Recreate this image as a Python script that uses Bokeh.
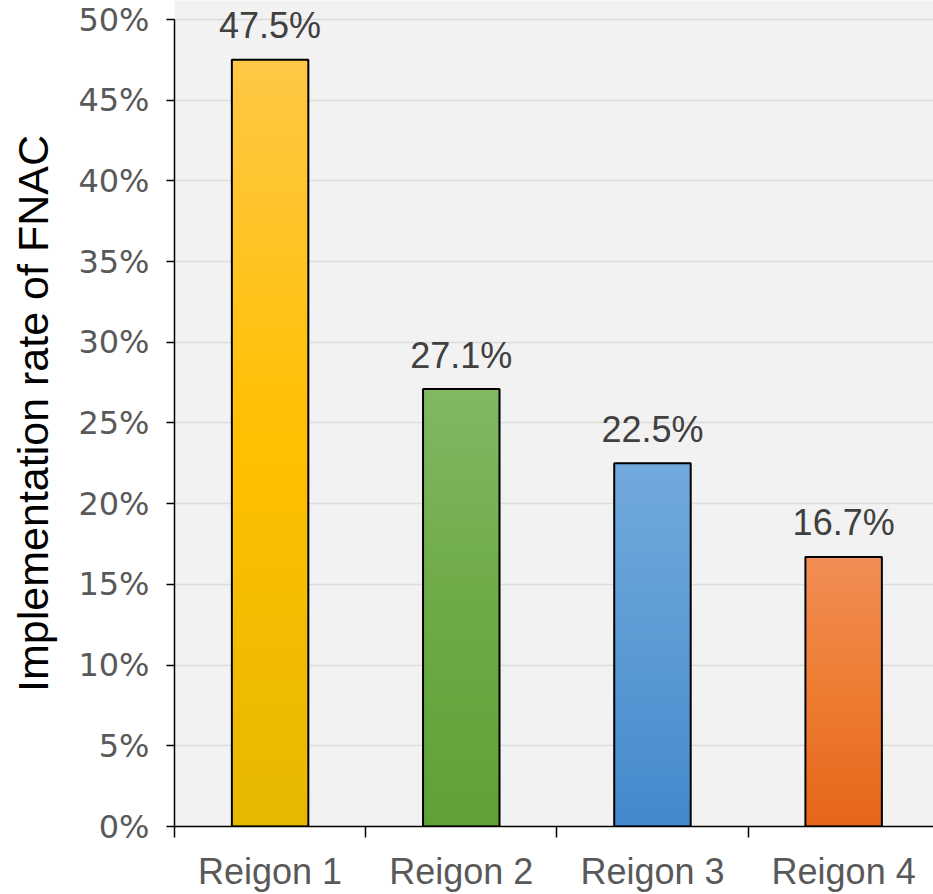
from bokeh.plotting import figure
from bokeh.models import Range1d, FixedTicker, NumeralTickFormatter, ColumnDataSource
from bokeh.core.properties import value
from bokeh.embed import file_html
from bokeh.resources import INLINE

# FNAC implementation rate by region
regions = ["Reigon 1", "Reigon 2", "Reigon 3", "Reigon 4"]
rates = [0.475, 0.271, 0.225, 0.167]
y_ticks = [0.0, 0.05, 0.10, 0.15, 0.20, 0.25, 0.30, 0.35, 0.40, 0.45, 0.50]

# gradient stops per bar: (bottom, middle, top)
bar_gradients = [
    ("#e6b800", "#ffc000", "#ffc746"),
    ("#5fa136", "#6dab45", "#80b864"),
    ("#4389cb", "#5b9bd5", "#72a9dd"),
    ("#e6651a", "#ed7d31", "#f28d57"),
]


def hex_to_rgb(h):
    h = h.lstrip("#")
    return tuple(int(h[i:i + 2], 16) for i in (0, 2, 4))


def blend(c1, c2, t):
    a, b = hex_to_rgb(c1), hex_to_rgb(c2)
    return "#%02x%02x%02x" % tuple(round(a[i] + (b[i] - a[i]) * t) for i in range(3))


def gradient_color(stops, t):
    lo, mid, hi = stops
    if t < 0.5:
        return blend(lo, mid, t / 0.5)
    return blend(mid, hi, (t - 0.5) / 0.5)


centers = [i + 0.5 for i in range(len(regions))]
BAR_W = 0.4

p = figure(
    width=933, height=894,
    x_range=Range1d(0, 3.970),
    y_range=Range1d(0, 0.5117),
    output_backend="svg", toolbar_location=None,
    min_border_left=174, min_border_right=0,
    min_border_top=0, min_border_bottom=64,
)
p.background_fill_color = "#f2f2f2"
p.border_fill_color = "white"
p.outline_line_color = None

# gradient fill: stacked bands painted bottom-up, each band reaching the bar top
N = 140
left, right, bottom, top, colors = [], [], [], [], []
for c, v, stops in zip(centers, rates, bar_gradients):
    for k in range(N):
        left.append(c - BAR_W / 2)
        right.append(c + BAR_W / 2)
        bottom.append(v * k / N)
        top.append(v)
        colors.append(gradient_color(stops, (k + 0.5) / N))
p.quad(left=left, right=right, bottom=bottom, top=top,
       fill_color=colors, line_color=None)

# bar outlines
p.vbar(x=centers, top=rates, width=BAR_W, bottom=0,
       fill_color=None, line_color="black", line_width=2)

# value labels
labels = ColumnDataSource(dict(x=centers, y=rates,
                               t=[f"{v * 100:.1f}%" for v in rates]))
p.text(x="x", y="y", text="t", source=labels,
       text_font=value("Liberation Sans"), text_font_size="36px",
       text_color="#404040", text_align="center",
       text_baseline="alphabetic", y_offset=-34)

# grid
p.xgrid.grid_line_color = None
p.ygrid.ticker = FixedTicker(ticks=y_ticks)
p.ygrid.grid_line_color = "#dcdcdc"
p.ygrid.grid_line_width = 1.5

# y axis
ya = p.yaxis[0]
ya.ticker = FixedTicker(ticks=y_ticks)
ya.bounds = (0, 0.5)
ya.formatter = NumeralTickFormatter(format="0%")
ya.axis_line_color = "black"
ya.axis_line_width = 1.5
ya.major_tick_line_color = "black"
ya.major_tick_line_width = 1.5
ya.major_tick_out = 8
ya.major_tick_in = 0
ya.minor_tick_line_color = None
ya.major_label_text_font = "DejaVu Sans"
ya.major_label_text_font_size = "32px"
ya.major_label_text_color = "#595959"
ya.major_label_standoff = 17
ya.axis_label = "Implementation rate of FNAC"
ya.axis_label_text_font = "Liberation Sans"
ya.axis_label_text_font_size = "43px"
ya.axis_label_text_font_style = "normal"
ya.axis_label_text_color = "black"
ya.axis_label_standoff = 18

# x axis: labels at category centres, tick marks at category boundaries
xa = p.xaxis[0]
xa.ticker = FixedTicker(ticks=centers, minor_ticks=[0, 1, 2, 3, 4])
xa.major_label_overrides = {c: r for c, r in zip(centers, regions)}
xa.axis_line_color = "black"
xa.axis_line_width = 1.5
xa.major_tick_line_color = None
xa.major_tick_out = 0
xa.major_tick_in = 0
xa.minor_tick_line_color = "black"
xa.minor_tick_line_width = 1.5
xa.minor_tick_out = 11
xa.minor_tick_in = 0
xa.major_label_text_font = "Liberation Sans"
xa.major_label_text_font_size = "36px"
xa.major_label_text_color = "#595959"
xa.major_label_standoff = 13

open("out.html", "w").write(file_html(p, INLINE))
